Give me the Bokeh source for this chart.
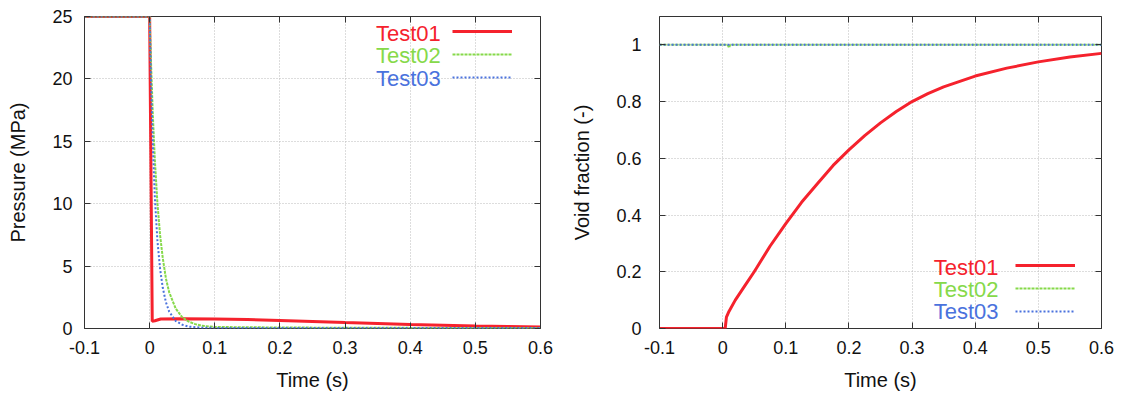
from bokeh.plotting import figure
from bokeh.layouts import row
from bokeh.models import (Legend, LegendItem, Label, LinearAxis, FixedTicker, Range1d)
from bokeh.embed import file_html
from bokeh.resources import INLINE

# ---------------- data ----------------
series_names = ["Test01", "Test02", "Test03"]

# Pressure (MPa) vs time (s)
p1_t = [-0.1, 0.0, 0.004, 0.008, 0.017, 0.05, 0.1, 0.15, 0.2, 0.25, 0.3, 0.35, 0.4, 0.45, 0.5, 0.55, 0.6]
p1_v = [25, 25, 0.58, 0.62, 0.76, 0.78, 0.77, 0.72, 0.65, 0.57, 0.48, 0.4, 0.32, 0.26, 0.2, 0.16, 0.13]

p2_t = [-0.1, 0.0, 0.002, 0.005, 0.008, 0.012, 0.016, 0.02, 0.025, 0.03, 0.04, 0.05, 0.06, 0.07, 0.08, 0.1, 0.2, 0.3, 0.4, 0.5, 0.6]
p2_v = [25, 25, 21.5, 17, 13.5, 10, 7.5, 5.7, 4.0, 2.9, 1.6, 0.9, 0.55, 0.35, 0.22, 0.12, 0.08, 0.06, 0.05, 0.05, 0.05]

p3_t = [-0.1, 0.0, 0.002, 0.005, 0.008, 0.012, 0.016, 0.02, 0.025, 0.03, 0.04, 0.05, 0.06, 0.08, 0.1, 0.2, 0.3, 0.4, 0.5, 0.6]
p3_v = [25, 25, 20, 14.5, 10.5, 7, 4.8, 3.3, 2.1, 1.35, 0.6, 0.3, 0.15, 0.07, 0.05, 0.04, 0.04, 0.04, 0.04, 0.04]

# Void fraction (-) vs time (s)
v1_t = [-0.1, 0.004, 0.006, 0.01, 0.02, 0.035, 0.05, 0.075, 0.1, 0.125, 0.15, 0.175, 0.2, 0.225, 0.25,
        0.275, 0.3, 0.325, 0.35, 0.4, 0.45, 0.5, 0.55, 0.6]
v1_v = [0, 0, 0.04, 0.06, 0.1, 0.15, 0.2, 0.29, 0.37, 0.445, 0.51, 0.575, 0.63, 0.68, 0.725,
        0.765, 0.8, 0.828, 0.852, 0.89, 0.918, 0.94, 0.957, 0.97]

v2_t = [-0.1, 0.008, 0.01, 0.012, 0.6]
v2_v = [1, 1, 0.99, 1, 1]

v3_t = [-0.1, 0.6]
v3_v = [1, 1]

x_ticks = [-0.1, 0.0, 0.1, 0.2, 0.3, 0.4, 0.5, 0.6]
x_tick_labels = ["-0.1", "0", "0.1", "0.2", "0.3", "0.4", "0.5", "0.6"]
p_ticks = [0, 5, 10, 15, 20, 25]
p_tick_labels = ["0", "5", "10", "15", "20", "25"]
v_ticks = [0, 0.2, 0.4, 0.6, 0.8, 1.0]
v_tick_labels = ["0", "0.2", "0.4", "0.6", "0.8", "1"]

# ---------------- styling ----------------
COLORS = ["#f5222d", "#86d94a", "#4a72dd"]
DASHES = ["solid", "3 1", "2 2"]
WIDTHS = [3, 2, 2]
FONT = "Liberation Sans"
TICK_FS = "18px"
LABEL_FS = "20px"
LEG_FS = "22px"


def style_axis(ax, show_labels=True):
    ax.major_tick_in = 6
    ax.major_tick_out = 0
    ax.minor_tick_line_color = None
    ax.axis_line_color = None
    ax.major_tick_line_color = "#333333"
    ax.major_label_text_font = FONT
    ax.major_label_text_font_size = TICK_FS
    ax.major_label_text_color = "#111111"
    ax.axis_label_text_font = FONT
    ax.axis_label_text_font_size = LABEL_FS
    ax.axis_label_text_font_style = "normal"
    ax.axis_label_text_color = "#111111"
    if not show_labels:
        ax.major_label_text_font_size = "0px"
        ax.major_label_text_color = None


def make_fig(width, height, yr, yticks, ylabels, ylabel, bl, br, ylabel_standoff, label_standoff):
    p = figure(width=width, height=height, output_backend="svg", toolbar_location=None,
               x_range=Range1d(-0.1, 0.6), y_range=yr,
               min_border_left=bl, min_border_right=br, min_border_top=16, min_border_bottom=65)
    p.outline_line_color = "#333333"
    p.outline_line_width = 1
    p.background_fill_color = "white"
    p.border_fill_color = "white"
    p.xaxis.ticker = FixedTicker(ticks=x_ticks)
    p.xaxis.major_label_overrides = {t: l for t, l in zip(x_ticks, x_tick_labels)}
    p.yaxis.ticker = FixedTicker(ticks=yticks)
    p.yaxis.major_label_overrides = {t: l for t, l in zip(yticks, ylabels)}
    p.xaxis.axis_label = "Time (s)"
    p.yaxis.axis_label = ylabel
    for ax in p.xaxis + p.yaxis:
        style_axis(ax)
    p.xaxis.major_label_standoff = 12
    p.xaxis.axis_label_standoff = 12
    p.yaxis.major_label_standoff = label_standoff
    p.yaxis.axis_label_standoff = ylabel_standoff
    # mirrored ticks
    top = LinearAxis(ticker=FixedTicker(ticks=x_ticks))
    style_axis(top, False)
    p.add_layout(top, "above")
    right = LinearAxis(ticker=FixedTicker(ticks=yticks))
    style_axis(right, False)
    p.add_layout(right, "right")
    for g in (p.xgrid[0], p.ygrid[0]):
        g.grid_line_color = "#bbbbbb"
        g.grid_line_dash = "1 2"
        g.grid_line_width = 1
    p.xgrid.ticker = FixedTicker(ticks=x_ticks)
    p.ygrid.ticker = FixedTicker(ticks=yticks)
    return p


H = 393

# ---------------- left figure: pressure ----------------
p1 = make_fig(565, H, Range1d(0, 25), p_ticks, p_tick_labels, "Pressure (MPa)", 84, 25, 20, 12)
r1 = []
for (t, v), c, d, w in zip([(p1_t, p1_v), (p2_t, p2_v), (p3_t, p3_v)], COLORS, DASHES, WIDTHS):
    r1.append(p1.line(t, v, line_color=c, line_dash=d, line_width=w))

# ---------------- right figure: void fraction ----------------
p2 = make_fig(550, H, Range1d(0, 1.1), v_ticks, v_tick_labels, "Void fraction (-)", 94, 14, 20, 18)
r2 = []
for (t, v), c, d, w in zip([(v1_t, v1_v), (v2_t, v2_v), (v3_t, v3_v)], COLORS, DASHES, WIDTHS):
    r2.append(p2.line(t, v, line_color=c, line_dash=d, line_width=w))


def add_legend(p, renderers, loc, text_x, text_ys):
    items = [LegendItem(label=" ", renderers=[r]) for r in renderers]
    leg = Legend(items=items, location=loc, glyph_width=60, glyph_height=20, spacing=3,
                 padding=0, margin=0, label_standoff=0, label_width=0,
                 label_text_font_size="1px", background_fill_alpha=0, border_line_color=None)
    p.add_layout(leg, "center")
    for name, c, y in zip(series_names, COLORS, text_ys):
        p.add_layout(Label(x=text_x, y=y, text=name, text_color=c, text_font=FONT,
                           text_font_size=LEG_FS, text_align="right", text_baseline="middle"))


add_legend(p1, r1, (368, 241), 0.447, [23.6, 21.85, 20.0])
add_legend(p2, r2, (356, 7), 0.437, [0.215, 0.137, 0.06])

layout = row(p1, p2)
open("out.html", "w").write(file_html(layout, INLINE))
